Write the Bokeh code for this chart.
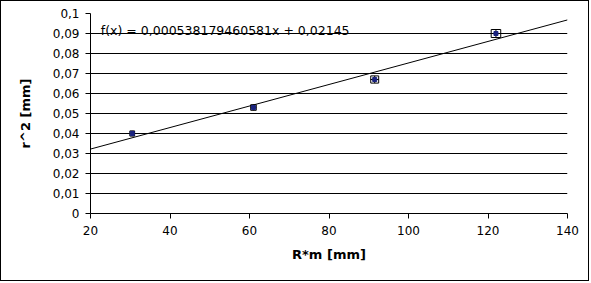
from bokeh.plotting import figure
from bokeh.models import Range1d, FixedTicker, CustomJSTickFormatter, Label, ColumnDataSource
from bokeh.embed import file_html
from bokeh.resources import INLINE

# data
r_m = [30.5, 61.0, 91.5, 122.0]          # R*m [mm]
r_sq = [0.0400, 0.0530, 0.0670, 0.0900]  # r^2 [mm]
x_err = [0.6, 0.7, 1.0, 1.2]
y_err = [0.0013, 0.0014, 0.0018, 0.0020]
slope = 0.000538179460581
intercept = 0.02145
eq_text = "f(x) = 0,000538179460581x + 0,02145"
x_ticks = [20, 40, 60, 80, 100, 120, 140]
y_ticks = [0, 0.01, 0.02, 0.03, 0.04, 0.05, 0.06, 0.07, 0.08, 0.09, 0.1]

FONT = "DejaVu Sans"

# 589x281 inner size plus a 1px border around the whole chart = 591x283
p = figure(width=589, height=281, output_backend="svg", toolbar_location=None,
           x_range=Range1d(20, 140), y_range=Range1d(0, 0.1),
           min_border_left=89, min_border_right=23, min_border_top=12, min_border_bottom=69)
p.background_fill_color = "white"
p.border_fill_color = "white"
p.outline_line_color = None
p.styles = {"border": "1px solid black"}

fmt = CustomJSTickFormatter(code="""
let s = tick.toFixed(2);
s = s.replace(/0+$/, '').replace(/\\.$/, '');
return s.replace('.', ',');
""")

for ax in (p.xaxis[0], p.yaxis[0]):
    ax.major_tick_in = 0
    ax.major_tick_out = 5
    ax.minor_tick_in = 0
    ax.minor_tick_out = 0
    ax.axis_line_color = "black"
    ax.major_tick_line_color = "black"
    ax.major_label_text_font = FONT
    ax.major_label_text_font_size = "12px"
    ax.major_label_text_color = "black"
    ax.axis_label_text_font = FONT
    ax.axis_label_text_font_size = "13px"
    ax.axis_label_text_font_style = "bold"
    ax.axis_label_text_color = "black"

p.xaxis.ticker = FixedTicker(ticks=x_ticks)
p.yaxis.ticker = FixedTicker(ticks=y_ticks)
p.yaxis.formatter = fmt
p.xaxis.axis_label = "R*m [mm]"
p.yaxis.axis_label = "r^2 [mm]"
p.xaxis.major_label_standoff = 7
p.yaxis.major_label_standoff = 6
p.xaxis.axis_label_standoff = 9
p.yaxis.axis_label_standoff = 17

p.xgrid.grid_line_color = None
p.ygrid.grid_line_color = "black"
p.ygrid.grid_line_alpha = 1.0

# trend line over full x range
xs = [p.x_range.start, p.x_range.end]
p.line(xs, [slope * x + intercept for x in xs], line_color="black", line_width=1)

# error bars
src = ColumnDataSource(dict(
    x=r_m, y=r_sq,
    xl=[x - e for x, e in zip(r_m, x_err)], xr=[x + e for x, e in zip(r_m, x_err)],
    yb=[y - e for y, e in zip(r_sq, y_err)], yt=[y + e for y, e in zip(r_sq, y_err)],
))
p.segment(x0="xl", y0="y", x1="xr", y1="y", source=src, line_color="black", line_width=1)
p.segment(x0="x", y0="yb", x1="x", y1="yt", source=src, line_color="black", line_width=1)
# caps
p.segment(x0="xl", y0="yb", x1="xl", y1="yt", source=src, line_color="black", line_width=1)
p.segment(x0="xr", y0="yb", x1="xr", y1="yt", source=src, line_color="black", line_width=1)
p.segment(x0="xl", y0="yb", x1="xr", y1="yb", source=src, line_color="black", line_width=1)
p.segment(x0="xl", y0="yt", x1="xr", y1="yt", source=src, line_color="black", line_width=1)

p.scatter("x", "y", source=src, marker="square", size=4, fill_color="#1a237e",
          line_color="#1a237e")

p.add_layout(Label(x=22.6, y=0.0915, text=eq_text, text_font=FONT, text_font_size="12.5px",
                   text_color="black", text_baseline="middle"))

open("out.html", "w").write(file_html(p, INLINE))
